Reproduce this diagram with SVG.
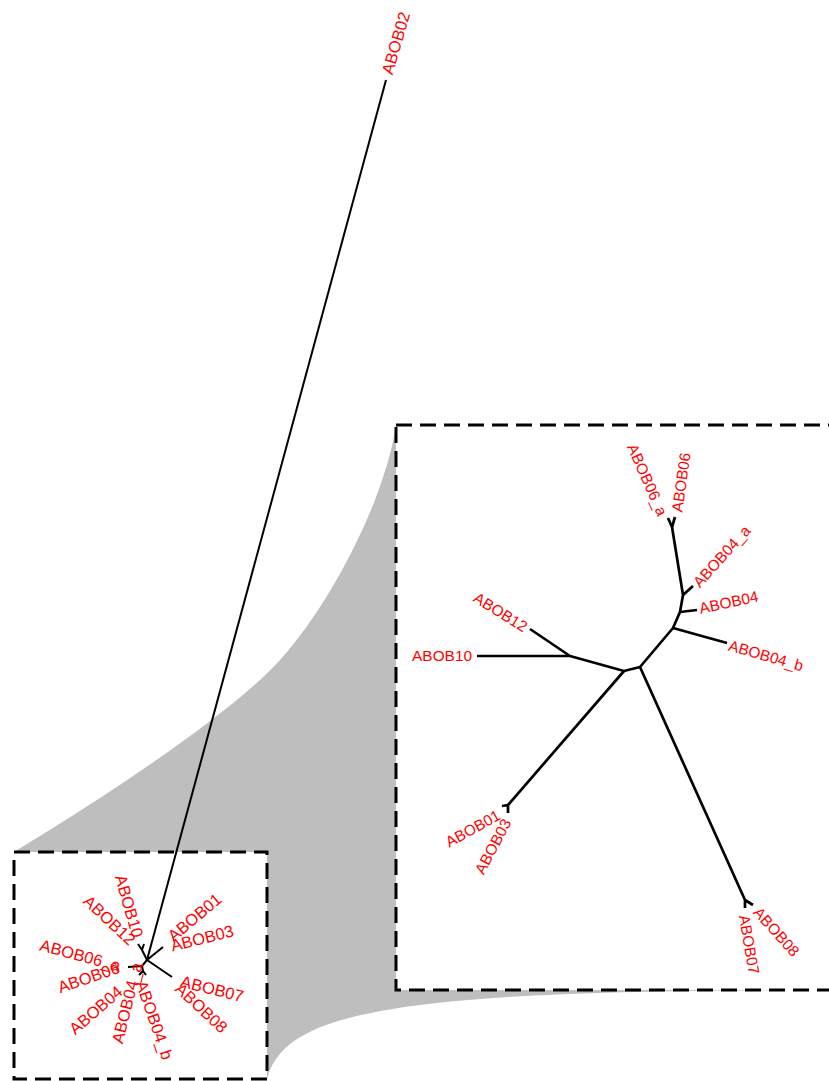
<svg xmlns="http://www.w3.org/2000/svg" width="829" height="1081" viewBox="0 0 829 1081">
<style>
.lbl{font-family:"Liberation Sans",Arial,sans-serif;fill:#ff0000;}
.big{font-size:15.4px;}
.sm{font-size:16.5px;}
.br{stroke:#000;fill:none;stroke-linecap:butt;stroke-linejoin:round;}
.bb{stroke-width:2.7;}
.sb{stroke-width:2;}
.box{fill:#fff;stroke:#000;stroke-width:3;stroke-dasharray:16 8;}
</style>
<rect width="829" height="1081" fill="#fff"/>
<path id="zoom-fan" d="M14,852 C100,800 230,715 280,660 C330,605 385,500 396,425 L396,990 L829,990 C400,990 285,1010 267,1079 Z" fill="#bebebe"/>
<rect id="small-box" class="box" x="14" y="852" width="253" height="227"/>
<rect id="big-box" class="box" x="396" y="425" width="440" height="565"/>
<g id="connectors">
  <g id="big-tree" class="br bb">
    <path d="M477,656 L570,656 M530,629 L570,656 L624,671 L640,667 L673,628 L680,612 L683,595 L672,527"/>
    <path d="M624,671 L508,805 L502,806 M508,805 L508,813"/>
    <path d="M640,667 L745,900 L745,908 M745,900 L753,905"/>
    <path d="M673,628 L727,643 M680,612 L697,610 M683,595 L693,586"/>
    <path d="M672,527 L668,518 M672,527 L675,517"/>
  </g>
  <g id="small-tree" class="br sb">
    <path d="M386,80 L147,960"/>
    <path d="M147,960 L142,950 L138,944 M142,950 L144,944"/>
    <path d="M147,960 L163,947"/>
    <path d="M147,960 L172,977"/>
    <path d="M147,960 L142,966 L128,967 M142,966 L143,971 L139,975 M143,971 L146,975"/>
  </g>
</g>
<g id="big-labels" class="lbl big">
  <g id="b-ABOB10"><text transform="translate(472,656)" text-anchor="end" dy="0.35em">ABOB10</text></g>
  <g id="b-ABOB12"><text transform="translate(526,628) rotate(32)" text-anchor="end" dy="0.35em">ABOB12</text></g>
  <g id="b-ABOB06_a"><text transform="translate(663,515) rotate(66)" text-anchor="end" dy="0.35em">ABOB06_a</text></g>
  <g id="b-ABOB06"><text transform="translate(677,512) rotate(-82)" dy="0.35em">ABOB06</text></g>
  <g id="b-ABOB04_a"><text transform="translate(696,585) rotate(-48)" dy="0.35em">ABOB04_a</text></g>
  <g id="b-ABOB04"><text transform="translate(699.5,608.5) rotate(-12)" dy="0.35em">ABOB04</text></g>
  <g id="b-ABOB04_b"><text transform="translate(729,645) rotate(16)" dy="0.35em">ABOB04_b</text></g>
  <g id="b-ABOB01"><text transform="translate(499,814) rotate(-29)" text-anchor="end" dy="0.35em">ABOB01</text></g>
  <g id="b-ABOB03"><text transform="translate(507,820) rotate(-62)" text-anchor="end" dy="0.35em">ABOB03</text></g>
  <g id="b-ABOB08"><text transform="translate(756.5,909.5) rotate(48)" dy="0.35em">ABOB08</text></g>
  <g id="b-ABOB07"><text transform="translate(744,915) rotate(80)" dy="0.35em">ABOB07</text></g>
</g>
<g id="small-labels" class="lbl sm">
  <g id="s-ABOB02"><text transform="translate(387,74) rotate(-74)" dy="0.35em">ABOB02</text></g>
  <g id="s-ABOB10"><text transform="translate(138,937) rotate(74)" text-anchor="end" dy="0.35em">ABOB10</text></g>
  <g id="s-ABOB12"><text transform="translate(133,942) rotate(43)" text-anchor="end" dy="0.35em">ABOB12</text></g>
  <g id="s-ABOB01"><text transform="translate(170,938) rotate(-40)" dy="0.35em">ABOB01</text></g>
  <g id="s-ABOB03"><text transform="translate(171,946) rotate(-14)" dy="0.35em">ABOB03</text></g>
  <g id="s-ABOB06_a"><text transform="translate(120,966) rotate(15)" text-anchor="end" dy="0.35em">ABOB06_a</text></g>
  <g id="s-ABOB06"><text transform="translate(119,967) rotate(-19)" text-anchor="end" dy="0.35em">ABOB06</text></g>
  <g id="s-ABOB04"><text transform="translate(120,989) rotate(-41)" text-anchor="end" dy="0.35em">ABOB04</text></g>
  <g id="s-ABOB04_a"><text transform="translate(137,963) rotate(-76)" text-anchor="end" dy="0.35em">ABOB04_a</text></g>
  <g id="s-ABOB04_b"><text transform="translate(141,981) rotate(71)" dy="0.35em">ABOB04_b</text></g>
  <g id="s-ABOB07"><text transform="translate(181,981) rotate(14)" dy="0.35em">ABOB07</text></g>
  <g id="s-ABOB08"><text transform="translate(178,986) rotate(43)" dy="0.35em">ABOB08</text></g>
</g>
</svg>
